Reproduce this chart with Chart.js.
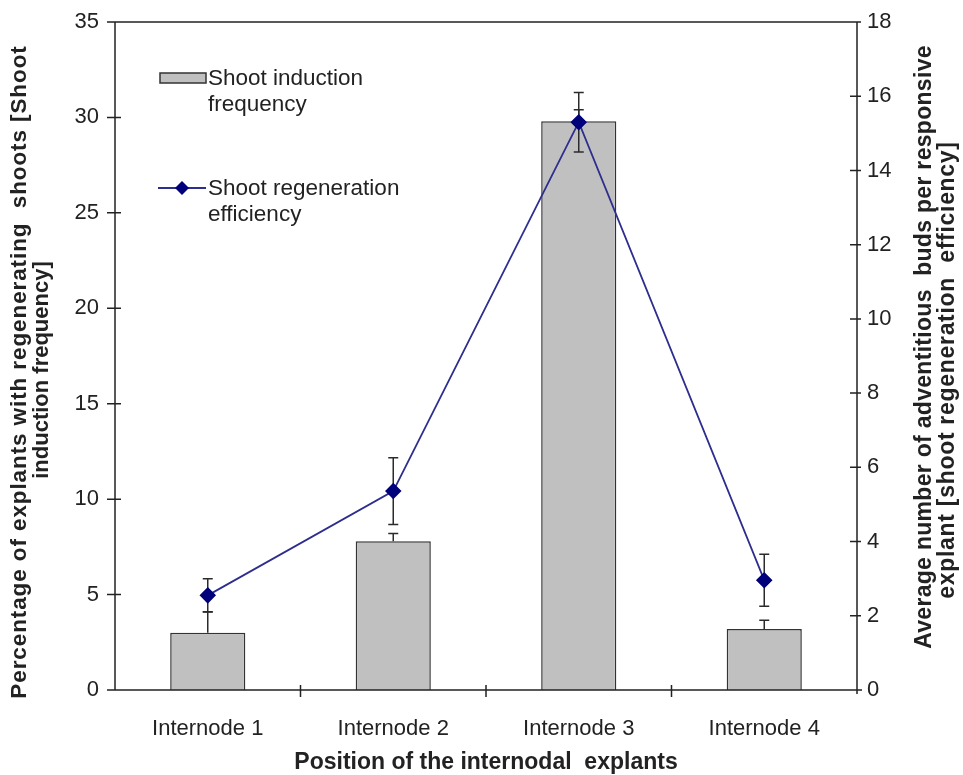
<!DOCTYPE html>
<html>
<head>
<meta charset="utf-8">
<script src="https://cdn.jsdelivr.net/npm/chart.js@4.4.1/dist/chart.umd.min.js"></script>
<style>
  html, body { margin: 0; padding: 0; background: #ffffff; }
  #wrap { width: 963px; height: 775px; }
</style>
</head>
<body>
<div id="wrap"><canvas id="c" width="963" height="775"></canvas></div>
<script>
const categories = ['Internode 1', 'Internode 2', 'Internode 3', 'Internode 4'];
const inductionFrequency = [3.0, 7.8, 29.8, 3.2];
const inductionError = [1.1, 0.4, 0.6, 0.45];
const regenerationEfficiency = [2.55, 5.36, 15.3, 2.96];
const regenerationError = [0.45, 0.9, 0.8, 0.7];
const leftTicks = [0, 5, 10, 15, 20, 25, 30, 35];
const rightTicks = [0, 2, 4, 6, 8, 10, 12, 14, 16, 18];
const legendLabels = [['Shoot induction', 'frequency'], ['Shoot regeneration', 'efficiency']];
const leftTitle = ['Percentage of explants with regenerating  shoots [Shoot', 'induction frequency]'];
const rightTitle = ['Average number of adventitious  buds per responsive', 'explant [shoot regeneration  efficiency]'];
const xTitle = 'Position of the internodal  explants';

const FONT = "'Liberation Sans', Arial, sans-serif";
const AXIS = '#222222';

const framePlugin = {
  id: 'frame',
  afterDatasetDraw(chart, args) {
    if (args.index !== 1) return;
    const ctx = chart.ctx;
    const x = chart.scales.x, yl = chart.scales.y, yr = chart.scales.y1;
    ctx.save();
    ctx.strokeStyle = '#2b2b2b';
    ctx.lineWidth = 1.5;
    const cap = 5;
    const seg = (px, y0, y1) => {
      ctx.beginPath();
      ctx.moveTo(px, y0); ctx.lineTo(px, y1);
      ctx.moveTo(px - cap, y1); ctx.lineTo(px + cap, y1);
      ctx.stroke();
    };
    categories.forEach((c, i) => {
      const px = x.getPixelForValue(i);
      seg(px, yl.getPixelForValue(inductionFrequency[i]), yl.getPixelForValue(inductionFrequency[i] + inductionError[i]));
      const v = regenerationEfficiency[i], e = regenerationError[i];
      seg(px, yr.getPixelForValue(v), yr.getPixelForValue(v + e));
      seg(px, yr.getPixelForValue(v), yr.getPixelForValue(v - e));
    });
    ctx.restore();
  },
  afterDraw(chart) {
    const ctx = chart.ctx;
    const a = chart.chartArea;
    const x = chart.scales.x, yl = chart.scales.y, yr = chart.scales.y1;
    ctx.save();
    ctx.strokeStyle = AXIS;
    ctx.lineWidth = 1.5;
    ctx.beginPath();
    ctx.moveTo(a.left, a.top); ctx.lineTo(a.left, a.bottom);
    ctx.moveTo(a.right, a.top); ctx.lineTo(a.right, a.bottom + 4);
    ctx.moveTo(a.left - 7, a.top); ctx.lineTo(a.right, a.top);
    ctx.moveTo(a.left - 7, a.bottom); ctx.lineTo(a.right + 5, a.bottom);
    leftTicks.forEach(t => {
      const py = yl.getPixelForValue(t);
      ctx.moveTo(a.left - 8, py); ctx.lineTo(a.left + 6, py);
    });
    rightTicks.forEach(t => {
      const py = yr.getPixelForValue(t);
      ctx.moveTo(a.right - 7, py); ctx.lineTo(a.right + 4, py);
    });
    for (let i = 1; i < categories.length; i++) {
      const px = (x.getPixelForValue(i - 1) + x.getPixelForValue(i)) / 2;
      ctx.moveTo(px, a.bottom - 5); ctx.lineTo(px, a.bottom + 7);
    }
    ctx.stroke();

    // legend
    ctx.fillStyle = '#c0c0c0';
    ctx.fillRect(160, 73, 46, 10);
    ctx.strokeStyle = '#333333';
    ctx.lineWidth = 1.5;
    ctx.strokeRect(160, 73, 46, 10);
    ctx.strokeStyle = '#2e2e8e';
    ctx.lineWidth = 1.8;
    ctx.beginPath(); ctx.moveTo(158, 188); ctx.lineTo(206, 188); ctx.stroke();
    ctx.fillStyle = '#00007a';
    ctx.beginPath();
    ctx.moveTo(182, 181); ctx.lineTo(189, 188); ctx.lineTo(182, 195); ctx.lineTo(175, 188);
    ctx.closePath(); ctx.fill();

    ctx.fillStyle = '#222222';
    ctx.font = '22.5px ' + FONT;
    ctx.textAlign = 'left';
    ctx.textBaseline = 'middle';
    ctx.fillText(legendLabels[0][0], 208, 79);
    ctx.fillText(legendLabels[0][1], 208, 105);
    ctx.fillText(legendLabels[1][0], 208, 189);
    ctx.fillText(legendLabels[1][1], 208, 215);

    // axis titles
    ctx.font = 'bold 23px ' + FONT;
    ctx.textAlign = 'center';
    ctx.fillText(xTitle, (a.left + a.right) / 2, 763);

    const rot = (cx, cy, t, ls, size) => {
      ctx.save();
      ctx.font = 'bold ' + size + 'px ' + FONT;
      if ('letterSpacing' in ctx) ctx.letterSpacing = ls + 'px';
      ctx.translate(cx, cy);
      ctx.rotate(-Math.PI / 2);
      ctx.fillText(t, 0, 0);
      ctx.restore();
    };
    rot(20, 372, leftTitle[0], 0.9, 22.5);
    rot(42, 370, leftTitle[1], 0, 22);
    rot(925, 347, rightTitle[0], 0.3, 23);
    rot(948, 370, rightTitle[1], 0.7, 23);

    ctx.restore();
  }
};

const noPad = (s) => { s.paddingTop = 0; s.paddingBottom = 0; };

new Chart(document.getElementById('c'), {
  data: {
    labels: categories,
    datasets: [
      {
        type: 'line',
        label: 'Shoot regeneration efficiency',
        data: regenerationEfficiency,
        yAxisID: 'y1',
        order: 0,
        borderColor: '#2e2e8e',
        borderWidth: 1.8,
        pointStyle: 'rectRot',
        pointRadius: 7,
        pointHoverRadius: 7,
        pointBackgroundColor: '#00007a',
        pointBorderColor: '#00007a',
        tension: 0
      },
      {
        type: 'bar',
        label: 'Shoot induction frequency',
        data: inductionFrequency,
        yAxisID: 'y',
        order: 1,
        backgroundColor: '#c0c0c0',
        borderColor: '#333333',
        borderWidth: 1.5,
        barPercentage: 0.405,
        categoryPercentage: 1.0
      }
    ]
  },
  options: {
    responsive: false,
    animation: false,
    layout: { padding: { top: 22, left: 0, right: 0, bottom: 0 } },
    plugins: { legend: { display: false }, tooltip: { enabled: false } },
    scales: {
      x: {
        type: 'category',
        offset: true,
        grid: { display: false, drawTicks: false },
        border: { display: false },
        ticks: { color: '#222222', font: { family: FONT, size: 22 }, padding: 26, maxRotation: 0 },
        afterFit(s) { s.height = 85; s.paddingLeft = 0; s.paddingRight = 0; }
      },
      y: {
        type: 'linear',
        position: 'left',
        min: 0, max: 35,
        grid: { display: false, drawTicks: false },
        border: { display: false },
        ticks: { stepSize: 5, color: '#222222', font: { family: FONT, size: 22 }, padding: 16 },
        afterFit(s) { s.width = 115; noPad(s); }
      },
      y1: {
        type: 'linear',
        position: 'right',
        min: 0, max: 18,
        grid: { display: false, drawTicks: false },
        border: { display: false },
        ticks: { stepSize: 2, color: '#222222', font: { family: FONT, size: 22 }, padding: 10 },
        afterFit(s) { s.width = 106; noPad(s); }
      }
    }
  },
  plugins: [framePlugin]
});
</script>
</body>
</html>
